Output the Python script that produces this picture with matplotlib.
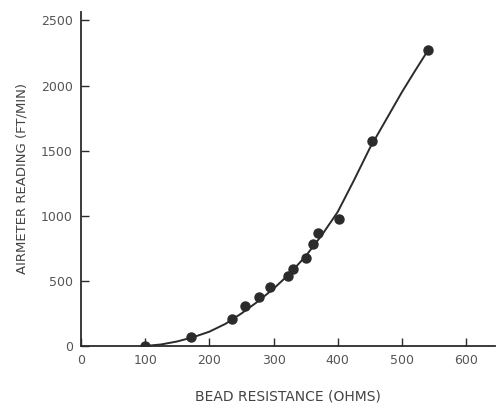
import matplotlib
matplotlib.use("Agg")
import matplotlib.pyplot as plt

# measured points (bead resistance, airmeter reading)
resistance = [100, 172, 236, 255, 278, 295, 322, 331, 351, 361, 370, 402, 454, 541]
reading = [0, 70, 208, 308, 377, 454, 538, 592, 677, 785, 869, 977, 1577, 2277]

# hand-drawn calibration curve
curve_x = [100, 125, 150, 175, 200, 225, 250, 275, 300, 325, 350, 375, 400, 425, 450, 475, 500, 520, 538]
curve_y = [0, 12, 35, 68, 110, 170, 250, 340, 440, 555, 690, 850, 1030, 1270, 1520, 1735, 1950, 2110, 2250]

xticks = [0, 100, 200, 300, 400, 500, 600]
yticks = [0, 500, 1000, 1500, 2000, 2500]

ink = "#2b2b2b"
label_col = "#555555"

fig = plt.figure(figsize=(4.99, 4.07), dpi=100)
ax = fig.add_axes([81 / 499, 1 - 346 / 407, 414 / 499, 334 / 407])

ax.plot(curve_x, curve_y, color=ink, lw=1.4, zorder=2)
ax.plot(resistance, reading, "o", color=ink, ms=6.5, zorder=3)

ax.set_xlim(0, 645)
ax.set_ylim(0, 2565)
ax.set_xticks(xticks)
ax.set_yticks(yticks)

for side in ["top", "right"]:
    ax.spines[side].set_visible(False)
for side in ["left", "bottom"]:
    ax.spines[side].set_color(ink)
    ax.spines[side].set_linewidth(1.3)

ax.tick_params(direction="in", length=6, width=1, color=ink,
               labelsize=9, labelcolor=label_col, pad=6)

ax.set_xlabel("BEAD RESISTANCE (OHMS)", fontsize=10, color="#444444", labelpad=16)
ax.set_ylabel("AIRMETER READING (FT/MIN)", fontsize=9.5, color="#444444", labelpad=9)

fig.savefig("out.png", dpi=100)
